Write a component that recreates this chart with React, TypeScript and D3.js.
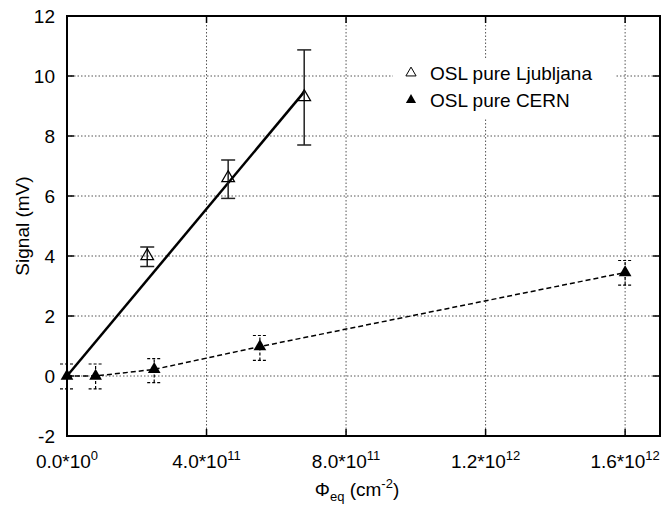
import React, { useRef, useEffect } from 'react';
import * as d3 from 'd3';

// Ljubljana samples (open triangles)
const ljX = [2.3e11, 4.62e11, 6.8e11];
const ljY = [4.0, 6.6, 9.3];
const ljLo = [3.65, 5.92, 7.7];
const ljHi = [4.3, 7.2, 10.87];
const ljFit = [[0, 0], [6.8e11, 9.47]];

// CERN samples (filled triangles)
const cernX = [0, 0.82e11, 2.5e11, 5.53e11, 1.6e12];
const cernY = [0, 0, 0.22, 0.98, 3.45];
const cernLo = [-0.43, -0.43, -0.22, 0.52, 3.03];
const cernHi = [0.4, 0.4, 0.58, 1.35, 3.85];

const xTicks = [0, 4e11, 8e11, 1.2e12, 1.6e12];
const xTickMant = ['0.0', '4.0', '8.0', '1.2', '1.6'];
const xTickExp = ['0', '11', '11', '12', '12'];
const yTicks = [-2, 0, 2, 4, 6, 8, 10, 12];

const App = () => {
  const ref = useRef<SVGSVGElement>(null);

  useEffect(() => {
    const svg = d3.select(ref.current);
    svg.selectAll('*').remove();
    const font = 'Liberation Sans, Arial, sans-serif';
    const fs = 19;
    const sup = 13;

    const x = d3.scaleLinear().domain([0, 1.7e12]).range([67, 660]);
    const y = d3.scaleLinear().domain([-2, 12]).range([436, 16]);

    const g = svg.append('g');

    // grid
    g.selectAll('.gx').data(xTicks.slice(1)).enter().append('line')
      .attr('x1', d => x(d)).attr('x2', d => x(d))
      .attr('y1', y(-2)).attr('y2', y(12))
      .attr('stroke', '#555').attr('stroke-width', 1).attr('stroke-dasharray', '1.5,2');
    g.selectAll('.gy').data(yTicks.slice(1, -1)).enter().append('line')
      .attr('x1', x(0)).attr('x2', x(1.7e12))
      .attr('y1', d => y(d)).attr('y2', d => y(d))
      .attr('stroke', '#555').attr('stroke-width', 1).attr('stroke-dasharray', '1.5,2');

    // legend background
    g.append('rect').attr('x', 393).attr('y', 58).attr('width', 222).attr('height', 60).attr('fill', 'white');

    // ticks (inside, all sides)
    const tl = 7;
    xTicks.forEach(t => {
      g.append('line').attr('x1', x(t)).attr('x2', x(t)).attr('y1', y(-2)).attr('y2', y(-2) - tl).attr('stroke', 'black').attr('stroke-width', 1.5);
      g.append('line').attr('x1', x(t)).attr('x2', x(t)).attr('y1', y(12)).attr('y2', y(12) + tl).attr('stroke', 'black').attr('stroke-width', 1.5);
    });
    yTicks.forEach(t => {
      g.append('line').attr('x1', x(0)).attr('x2', x(0) + tl).attr('y1', y(t)).attr('y2', y(t)).attr('stroke', 'black').attr('stroke-width', 1.5);
      g.append('line').attr('x1', x(1.7e12)).attr('x2', x(1.7e12) - tl).attr('y1', y(t)).attr('y2', y(t)).attr('stroke', 'black').attr('stroke-width', 1.5);
    });

    // y tick labels
    g.selectAll('.yl').data(yTicks).enter().append('text')
      .attr('x', 55).attr('y', d => y(d) + 7)
      .attr('text-anchor', 'end').attr('font-family', font).attr('font-size', fs)
      .text(d => d);

    // x tick labels with superscripts
    xTicks.forEach((t, i) => {
      const tx = g.append('text').attr('x', x(t)).attr('y', 468)
        .attr('text-anchor', 'middle').attr('font-family', font).attr('font-size', fs);
      tx.append('tspan').text(xTickMant[i] + '*10');
      tx.append('tspan').attr('dy', -8).attr('font-size', sup).text(xTickExp[i]);
    });

    // axis titles
    g.append('text').attr('transform', `translate(29,${y(5)}) rotate(-90)`)
      .attr('text-anchor', 'middle').attr('font-family', font).attr('font-size', fs)
      .text('Signal (mV)');
    const xt = g.append('text').attr('x', 357).attr('y', 496)
      .attr('text-anchor', 'middle').attr('font-family', font).attr('font-size', fs);
    xt.append('tspan').text('Φ');
    xt.append('tspan').attr('dy', 5).attr('font-size', sup).text('eq');
    xt.append('tspan').attr('dy', -5).text(' (cm');
    xt.append('tspan').attr('dy', -8).attr('font-size', sup).text('-2');
    xt.append('tspan').attr('dy', 8).text(')');

    const tri = d3.symbol().type(d3.symbolTriangle).size(70);

    // Ljubljana fit line
    const line = d3.line<number[]>().x(d => x(d[0])).y(d => y(d[1]));
    g.append('path').attr('d', line(ljFit)).attr('fill', 'none').attr('stroke', 'black').attr('stroke-width', 2.5);

    // Ljubljana error bars
    const cap = 7;
    ljX.forEach((xv, i) => {
      const eb = g.append('g').attr('stroke', '#222').attr('stroke-width', 1.5);
      eb.append('line').attr('x1', x(xv)).attr('x2', x(xv)).attr('y1', y(ljLo[i])).attr('y2', y(ljHi[i]));
      eb.append('line').attr('x1', x(xv) - cap).attr('x2', x(xv) + cap).attr('y1', y(ljLo[i])).attr('y2', y(ljLo[i]));
      eb.append('line').attr('x1', x(xv) - cap).attr('x2', x(xv) + cap).attr('y1', y(ljHi[i])).attr('y2', y(ljHi[i]));
    });
    g.selectAll('.ljp').data(ljX).enter().append('path')
      .attr('d', tri)
      .attr('transform', (d, i) => `translate(${x(d)},${y(ljY[i])})`)
      .attr('fill', 'none').attr('stroke', 'black').attr('stroke-width', 1.2);

    // CERN dashed line
    const cernPts = cernX.map((v, i) => [v, cernY[i]]);
    g.append('path').attr('d', line(cernPts)).attr('fill', 'none').attr('stroke', 'black')
      .attr('stroke-width', 1.5).attr('stroke-dasharray', '5,3');

    cernX.forEach((xv, i) => {
      const eb = g.append('g').attr('stroke', 'black').attr('stroke-width', 1.2).attr('stroke-dasharray', '3,2');
      eb.append('line').attr('x1', x(xv)).attr('x2', x(xv)).attr('y1', y(cernLo[i])).attr('y2', y(cernHi[i]));
      eb.append('line').attr('x1', x(xv) - cap).attr('x2', x(xv) + cap).attr('y1', y(cernLo[i])).attr('y2', y(cernLo[i]));
      eb.append('line').attr('x1', x(xv) - cap).attr('x2', x(xv) + cap).attr('y1', y(cernHi[i])).attr('y2', y(cernHi[i]));
    });
    g.selectAll('.cp').data(cernX).enter().append('path')
      .attr('d', tri)
      .attr('transform', (d, i) => `translate(${x(d)},${y(cernY[i])})`)
      .attr('fill', 'black');

    // frame
    g.append('rect').attr('x', x(0)).attr('y', y(12))
      .attr('width', x(1.7e12) - x(0)).attr('height', y(-2) - y(12))
      .attr('fill', 'none').attr('stroke', 'black').attr('stroke-width', 2);

    // legend
    const legendSym = d3.symbol().type(d3.symbolTriangle).size(45);
    g.append('path').attr('d', legendSym).attr('transform', 'translate(411,73)')
      .attr('fill', 'none').attr('stroke', 'black').attr('stroke-width', 1);
    g.append('path').attr('d', legendSym).attr('transform', 'translate(411,100)').attr('fill', 'black');
    g.append('text').attr('x', 430).attr('y', 80).attr('font-family', font).attr('font-size', fs).text('OSL pure Ljubljana');
    g.append('text').attr('x', 430).attr('y', 107).attr('font-family', font).attr('font-size', fs).text('OSL pure CERN');
  }, []);

  return (
    <svg ref={ref} width={665} height={505}
      style={{ position: 'absolute', left: 0, top: 0, background: 'white' }} />
  );
};

export default App;
